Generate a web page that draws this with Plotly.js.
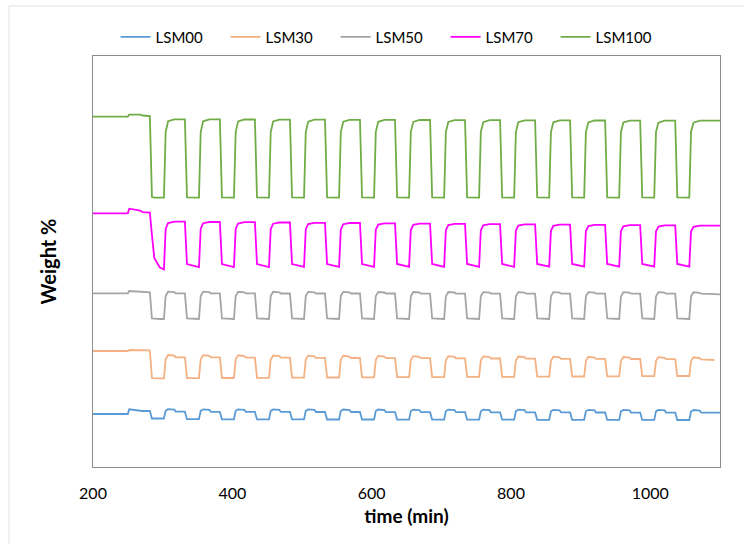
<!DOCTYPE html>
<html>
<head>
<meta charset="utf-8">
<script src="https://cdn.plot.ly/plotly-3.0.1.min.js"></script>
<style>html,body{margin:0;padding:0;background:#fff;}#chart{width:744px;height:544px;}</style>
</head>
<body>
<div id="chart"></div>
<script>
// time (min)
const time = [
  200, 250, 252, 268, 271,
  281.6, 284.6, 288, 296, 301.8, 304.3, 307.8, 316.8, 318.8,
  331.9, 334.9, 352.1, 354.6, 358.1, 367.1, 369.1,
  382.1, 385.1, 402.3, 404.8, 408.3, 417.3, 419.3,
  432.4, 435.4, 452.6, 455.1, 458.6, 467.6, 469.6,
  482.7, 485.7, 502.9, 505.4, 508.9, 517.9, 519.9,
  533.0, 536.0, 553.2, 555.7, 559.2, 568.2, 570.2,
  583.2, 586.2, 603.4, 605.9, 609.4, 618.4, 620.4,
  633.5, 636.5, 653.7, 656.2, 659.7, 668.7, 670.7,
  683.8, 686.8, 704.0, 706.5, 710.0, 719.0, 721.0,
  734.0, 737.0, 754.2, 756.7, 760.2, 769.2, 771.2,
  784.3, 787.3, 804.5, 807.0, 810.5, 819.5, 821.5,
  834.6, 837.6, 854.8, 857.3, 860.8, 869.8, 871.8,
  884.8, 887.8, 905.0, 907.5, 911.0, 920.0, 922.0,
  935.1, 938.1, 955.3, 957.8, 961.3, 970.3, 972.3,
  985.4, 988.4, 1005.6, 1008.1, 1011.6, 1020.6, 1022.6,
  1035.7, 1038.7, 1055.9, 1058.4, 1061.9, 1070.9, 1072.9,
  1091.7, 1100
];

// Weight % (relative, axis unlabeled)
const lsm00 = [
  53.0, 53.0, 57.7, 56.3, 56.0,
  56.0, 48.5, 48.5, 48.5, 48.5, 56.3, 57.8, 57.3, 55.3,
  55.3, 47.8, 47.8, 56.2, 57.7, 57.2, 55.2,
  55.2, 47.7, 47.7, 56.2, 57.7, 57.2, 55.2,
  55.2, 47.6, 47.6, 56.1, 57.6, 57.1, 55.1,
  55.1, 47.6, 47.6, 56.1, 57.6, 57.1, 55.0,
  55.0, 47.5, 47.5, 56.0, 57.5, 57.0, 55.0,
  55.0, 47.5, 47.5, 56.0, 57.5, 57.0, 54.9,
  54.9, 47.4, 47.4, 55.9, 57.4, 56.9, 54.8,
  54.8, 47.4, 47.4, 55.9, 57.4, 56.9, 54.8,
  54.8, 47.3, 47.3, 55.8, 57.3, 56.8, 54.7,
  54.7, 47.3, 47.3, 55.8, 57.3, 56.8, 54.6,
  54.6, 47.2, 47.2, 55.7, 57.2, 56.7, 54.6,
  54.6, 47.2, 47.2, 55.7, 57.2, 56.7, 54.5,
  54.5, 47.1, 47.1, 55.6, 57.1, 56.6, 54.4,
  54.4, 47.1, 47.1, 55.6, 57.1, 56.6, 54.4,
  54.4, 47.0, 47.0, 55.5, 57.0, 56.5, 54.3,
  54.3, 54.3
];

const lsm30 = [
  116.0, 116.0, 117.0, 117.0, 116.7,
  116.7, 88.9, 88.7, 88.7, 88.7, 108.0, 112.0, 111.3, 109.7,
  109.7, 88.9, 88.9, 107.8, 111.8, 111.1, 109.6,
  109.6, 89.0, 89.0, 107.7, 111.7, 111.0, 109.4,
  109.4, 89.2, 89.2, 107.5, 111.5, 110.8, 109.3,
  109.3, 89.3, 89.3, 107.4, 111.4, 110.7, 109.2,
  109.2, 89.5, 89.5, 107.2, 111.2, 110.5, 109.0,
  109.0, 89.6, 89.6, 107.1, 111.1, 110.4, 108.9,
  108.9, 89.8, 89.8, 106.9, 110.9, 110.2, 108.8,
  108.8, 89.9, 89.9, 106.8, 110.8, 110.1, 108.6,
  108.6, 90.1, 90.1, 106.6, 110.6, 109.9, 108.5,
  108.5, 90.2, 90.2, 106.5, 110.5, 109.8, 108.4,
  108.4, 90.4, 90.4, 106.3, 110.3, 109.6, 108.2,
  108.2, 90.5, 90.5, 106.2, 110.2, 109.5, 108.1,
  108.1, 90.7, 90.7, 106.0, 110.0, 109.3, 108.0,
  108.0, 90.8, 90.8, 105.9, 109.9, 109.2, 107.8,
  107.8, 91.0, 91.0, 105.7, 109.7, 109.0, 107.7,
  107.0, null
];

const lsm50 = [
  173.7, 173.7, 176.0, 175.5, 174.7,
  174.7, 148.5, 148.2, 148.0, 148.0, 171.0, 175.3, 174.8, 173.6,
  173.6, 148.5, 148.0, 171.0, 175.3, 174.8, 173.6,
  173.6, 148.5, 148.0, 171.0, 175.2, 174.7, 173.6,
  173.6, 148.5, 148.0, 171.0, 175.2, 174.7, 173.5,
  173.5, 148.5, 148.0, 170.9, 175.1, 174.6, 173.5,
  173.5, 148.5, 148.0, 170.9, 175.1, 174.6, 173.5,
  173.5, 148.5, 148.0, 170.9, 175.0, 174.5, 173.5,
  173.5, 148.5, 148.0, 170.8, 175.0, 174.5, 173.4,
  173.4, 148.5, 148.0, 170.8, 175.0, 174.5, 173.4,
  173.4, 148.5, 148.0, 170.8, 174.9, 174.4, 173.4,
  173.4, 148.5, 148.0, 170.7, 174.9, 174.4, 173.4,
  173.4, 148.5, 148.0, 170.7, 174.9, 174.4, 173.3,
  173.3, 148.5, 148.0, 170.7, 174.8, 174.3, 173.3,
  173.3, 148.5, 148.0, 170.6, 174.8, 174.3, 173.3,
  173.3, 148.5, 148.0, 170.6, 174.8, 174.3, 173.3,
  173.3, 148.5, 148.0, 170.6, 174.7, 174.2, 173.3,
  172.8, 172.7
];

const lsm70 = [
  253.7, 253.7, 258.3, 256.5, 254.8,
  254.3, 232.0, 209.0, 199.5, 197.7, 238.0, 244.0, 245.3, 245.3,
  245.3, 203.0, 200.0, 238.0, 243.8, 245.0, 245.0,
  245.0, 203.0, 200.0, 238.0, 243.5, 244.8, 244.8,
  244.8, 203.0, 200.0, 237.8, 243.3, 244.5, 244.5,
  244.5, 203.0, 200.1, 237.6, 243.0, 244.2, 244.2,
  244.2, 203.0, 200.1, 237.4, 242.8, 244.0, 244.0,
  244.0, 203.0, 200.1, 237.2, 242.5, 243.7, 243.7,
  243.7, 203.0, 200.2, 237.0, 242.2, 243.4, 243.4,
  243.4, 203.0, 200.2, 236.8, 242.0, 243.2, 243.2,
  243.2, 203.0, 200.2, 236.6, 241.7, 242.9, 242.9,
  242.9, 203.0, 200.2, 236.4, 241.4, 242.6, 242.6,
  242.6, 203.0, 200.3, 236.2, 241.2, 242.4, 242.4,
  242.4, 203.0, 200.3, 236.0, 240.9, 242.1, 242.1,
  242.1, 203.0, 200.3, 235.8, 240.6, 241.8, 241.8,
  241.8, 203.0, 200.3, 235.6, 240.4, 241.6, 241.6,
  241.6, 203.0, 200.3, 235.4, 240.1, 241.3, 241.3,
  241.3, 241.3
];

const lsm100 = [
  350.3, 350.3, 352.3, 352.3, 351.5,
  351.0, 270.0, 269.4, 269.3, 269.3, 335.0, 345.8, 347.7, 347.7,
  347.7, 269.6, 269.3, 335.0, 345.7, 347.6, 347.6,
  347.6, 269.6, 269.3, 335.0, 345.6, 347.5, 347.5,
  347.5, 269.6, 269.3, 335.0, 345.5, 347.4, 347.4,
  347.4, 269.6, 269.3, 335.0, 345.4, 347.3, 347.3,
  347.3, 269.6, 269.3, 335.0, 345.3, 347.2, 347.2,
  347.2, 269.6, 269.3, 335.0, 345.2, 347.1, 347.1,
  347.1, 269.6, 269.3, 335.0, 345.1, 347.0, 347.0,
  347.0, 269.6, 269.3, 335.0, 345.0, 346.9, 346.9,
  346.9, 269.6, 269.3, 335.0, 344.9, 346.8, 346.8,
  346.8, 269.6, 269.3, 335.0, 344.8, 346.7, 346.7,
  346.7, 269.6, 269.3, 335.0, 344.7, 346.6, 346.6,
  346.6, 269.6, 269.3, 335.0, 344.6, 346.5, 346.5,
  346.5, 269.6, 269.3, 335.0, 344.5, 346.4, 346.4,
  346.4, 269.6, 269.3, 335.0, 344.4, 346.3, 346.3,
  346.3, 269.6, 269.3, 335.0, 344.3, 346.3, 346.3,
  346.3, 346.3
];

const seriesNames = ['LSM00', 'LSM30', 'LSM50', 'LSM70', 'LSM100'];
const seriesColors = ['#5B9BD5', '#F4B183', '#A5A5A5', '#FF00FF', '#70AD47'];
const seriesValues = [lsm00, lsm30, lsm50, lsm70, lsm100];
const xTicks = [200, 400, 600, 800, 1000];

const FONT = 'Lato, "Open Sans", sans-serif';

const traces = seriesNames.map((n, i) => ({
  type: 'scatter', mode: 'lines', name: n,
  x: time, y: seriesValues[i],
  line: {color: seriesColors[i], width: 1.8},
  connectgaps: false
}));

const layout = {
  width: 744, height: 544,
  margin: {l: 93, r: 24, t: 56, b: 77, pad: 0},
  paper_bgcolor: '#ffffff', plot_bgcolor: '#ffffff',
  font: {family: FONT, color: '#000000'},
  showlegend: true,
  legend: {
    orientation: 'h', x: 0.036, xanchor: 'left', y: 1.046, yanchor: 'middle',
    font: {family: FONT, size: 15, color: '#000000'},
    itemwidth: 30, entrywidth: 65, entrywidthmode: 'pixels',
    bgcolor: 'rgba(0,0,0,0)', traceorder: 'normal'
  },
  xaxis: {
    range: [200, 1100], tickmode: 'array', tickvals: xTicks, ticktext: xTicks.map(String),
    showgrid: false, zeroline: false, showline: true, mirror: true,
    linecolor: '#8c8c8c', linewidth: 1, ticks: '',
    tickfont: {family: FONT, size: 16, color: '#000000'},
    ticklabelstandoff: 12,
    title: {text: 'time (min)', font: {family: FONT, size: 19, color: '#000000', weight: 'bold'}, standoff: 8}
  },
  yaxis: {
    range: [0, 411], showticklabels: false,
    showgrid: false, zeroline: false, showline: true, mirror: true,
    linecolor: '#8c8c8c', linewidth: 1, ticks: '',
    title: {text: 'Weight %', font: {family: FONT, size: 20, color: '#000000', weight: 'bold'}, standoff: 30}
  },
  shapes: [
    {type: 'line', xref: 'paper', yref: 'paper', x0: -0.1340, x1: -0.1340, y0: -0.3, y1: 1.1217,
     line: {color: '#e3e3e3', width: 1}},
    {type: 'line', xref: 'paper', yref: 'paper', x0: -0.1340, x1: 1.2, y0: 1.1217, y1: 1.1217,
     line: {color: '#e3e3e3', width: 1}}
  ]
};

Plotly.newPlot('chart', traces, layout, {displayModeBar: false, staticPlot: true});
</script>
</body>
</html>
